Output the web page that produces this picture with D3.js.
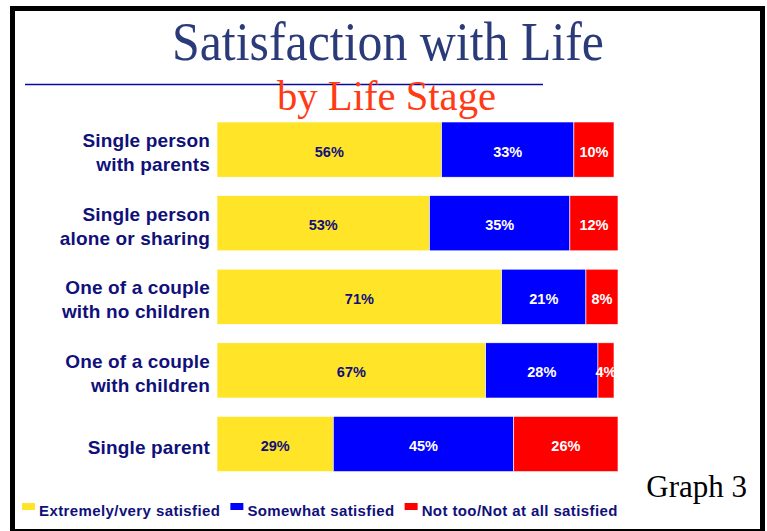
<!DOCTYPE html>
<html>
<head>
<meta charset="utf-8">
<script src="https://cdn.jsdelivr.net/npm/d3@7"></script>
<style>
  body { margin: 0; background: #fff; }
  svg { display: block; }
</style>
</head>
<body>
<div id="chart"></div>
<script>
// categories (top to bottom), each label split into lines
var stages = ["Single person with parents", "Single person alone or sharing",
              "One of a couple with no children", "One of a couple with children", "Single parent"];
var stageLines = [["Single person", "with parents"], ["Single person", "alone or sharing"],
                  ["One of a couple", "with no children"], ["One of a couple", "with children"], ["Single parent"]];

// series values, percent
var series = ["Extremely/very satisfied", "Somewhat satisfied", "Not too/Not at all satisfied"];
var extremely = [56, 53, 71, 67, 29];
var somewhat  = [33, 35, 21, 28, 45];
var notToo    = [10, 12, 8, 4, 26];

var W = 767, H = 531;
var navy = "#10107a";

var svg = d3.select("#chart").append("svg")
    .attr("width", W)
    .attr("height", H);

svg.append("rect").attr("width", W).attr("height", H).attr("fill", "#fff");

// frame
svg.append("rect")
    .attr("x", 12.5).attr("y", 8.5)
    .attr("width", 750).attr("height", 523)
    .attr("fill", "none")
    .attr("stroke", "#000")
    .attr("stroke-width", 5);

// titles
svg.append("text")
    .attr("x", 172).attr("y", 60)
    .style("font-family", "'Liberation Serif', 'Times New Roman', serif")
    .style("font-size", "54px")
    .attr("textLength", 432)
    .attr("lengthAdjust", "spacingAndGlyphs")
    .attr("fill", "#2b3a78")
    .text("Satisfaction with Life");

svg.append("line")
    .attr("x1", 25).attr("x2", 543)
    .attr("y1", 84.5).attr("y2", 84.5)
    .attr("stroke", "#0a0a9a")
    .attr("stroke-width", 1.3);

svg.append("text")
    .attr("x", 277).attr("y", 110)
    .style("font-family", "'Liberation Serif', 'Times New Roman', serif")
    .style("font-size", "42px")
    .attr("textLength", 219)
    .attr("lengthAdjust", "spacingAndGlyphs")
    .attr("fill", "#ff3a14")
    .text("by Life Stage");

// build rows from arrays
var data = stages.map(function(s, i) {
    return { stage: s, extremely: extremely[i], somewhat: somewhat[i], notToo: notToo[i] };
});
var keys = ["extremely", "somewhat", "notToo"];
var color = d3.scaleOrdinal().domain(keys).range(["#ffe428", "#0000ff", "#ff0000"]);
var textColor = d3.scaleOrdinal().domain(keys).range([navy, "#fff", "#fff"]);

var x = d3.scaleLinear().domain([0, 100]).range([217, 618]);
var y = d3.scaleBand().domain(stages).range([112.8, 480.8]).paddingInner(0.25).paddingOuter(0.125);

var stacked = d3.stack().keys(keys)(data);

var layers = svg.append("g")
    .selectAll("g")
    .data(stacked)
    .enter().append("g")
    .attr("fill", function(d) { return color(d.key); });

layers.selectAll("rect")
    .data(function(d) { return d; })
    .enter().append("rect")
        .attr("x", function(d) { return x(d[0]); })
        .attr("y", function(d) { return y(d.data.stage); })
        .attr("width", function(d) { return x(d[1]) - x(d[0]); })
        .attr("height", y.bandwidth())
        .attr("stroke", "#fff")
        .attr("stroke-width", 0.6);

// value labels
stacked.forEach(function(layer) {
    svg.append("g").selectAll("text")
        .data(layer)
        .enter().append("text")
            .attr("x", function(d) { return (x(d[0]) + x(d[1])) / 2; })
            .attr("y", function(d) { return y(d.data.stage) + y.bandwidth() / 2 + 7; })
            .attr("text-anchor", "middle")
            .style("font-family", "'Liberation Sans', Arial, sans-serif")
            .style("font-weight", "bold")
            .style("font-size", "14.5px")
            .attr("fill", textColor(layer.key))
            .text(function(d) { return (d[1] - d[0]) + "%"; });
});

// category labels
stageLines.forEach(function(lines, i) {
    var cy = y(stages[i]) + y.bandwidth() / 2;
    var t = svg.append("text")
        .attr("text-anchor", "end")
        .style("font-family", "'Liberation Sans', Arial, sans-serif")
        .style("font-weight", "bold")
        .style("font-size", "19px")
        .style("letter-spacing", "0.15px")
        .attr("fill", navy);
    var first = cy + 9.5 - (lines.length - 1) * 12;
    lines.forEach(function(l, j) {
        t.append("tspan")
            .attr("x", 210)
            .attr("y", first + j * 24)
            .text(l);
    });
});

// Graph 3
svg.append("text")
    .attr("x", 747).attr("y", 497)
    .attr("text-anchor", "end")
    .style("font-family", "'Liberation Serif', 'Times New Roman', serif")
    .style("font-size", "31px")
    .attr("fill", "#000")
    .text("Graph 3");

// legend
var lx = 22;
keys.forEach(function(k, i) {
    svg.append("rect")
        .attr("x", lx).attr("y", 503)
        .attr("width", 13).attr("height", 7)
        .attr("fill", color(k));
    var t = svg.append("text")
        .attr("x", lx + 17).attr("y", 516)
        .style("font-family", "'Liberation Sans', Arial, sans-serif")
        .style("font-weight", "bold")
        .style("font-size", "15px")
        .style("letter-spacing", "0.4px")
        .attr("fill", navy)
        .text(series[i]);
    lx = lx + 17 + t.node().getComputedTextLength() + 10;
});
</script>
</body>
</html>
